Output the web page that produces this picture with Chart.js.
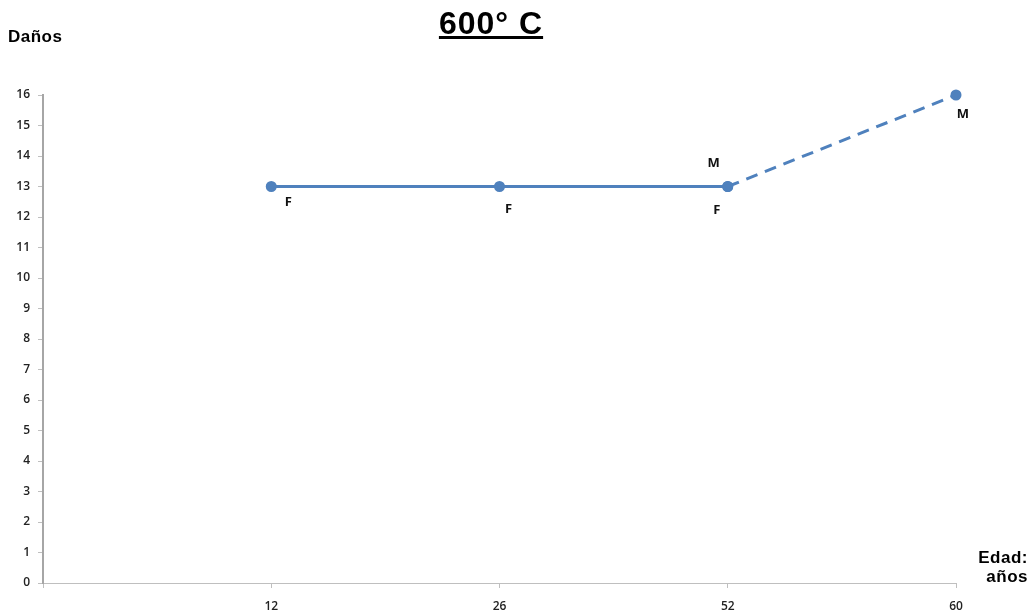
<!DOCTYPE html>
<html lang="es">
<head>
  <meta charset="UTF-8" />
  <title>600° C</title>
  <script src="https://cdn.jsdelivr.net/npm/chart.js"></script>
  <style>
    body { margin: 0; background: #fff; font-family: "Liberation Sans", Arial, sans-serif; }
    #wrap { position: relative; width: 1032px; height: 614px; }
    .txt { position: absolute; color: #000; white-space: nowrap; }
    #titulo { left: 0; width: 982px; top: 5px; text-align: center; font-size: 32px; font-weight: bold; letter-spacing: 1px; text-decoration: underline; }
    #ylab { left: 8px; top: 27px; font-size: 17px; font-weight: bold; letter-spacing: 0.5px; }
    #xlab { left: 968px; top: 548px; font-size: 17px; font-weight: bold; text-align: right; line-height: 19px; width: 60px; letter-spacing: 0.5px; }
  </style>
</head>
<body>
  <div id="wrap">
    <canvas id="grafico" width="1032" height="614"></canvas>
    <div class="txt" id="titulo">600° C</div>
    <div class="txt" id="ylab">Daños</div>
    <div class="txt" id="xlab">Edad:<br>años</div>
  </div>

  <script>
    // categorias (la primera vacia marca el origen del eje)
    const edades = ['', '12', '26', '52', '60'];
    const danosF = [null, 13, 13, 13, null];
    const danosM = [null, null, null, 13, 16];
    const etiquetasF = [null, 'F', 'F', 'F', null];
    const etiquetasM = [null, null, null, 'M', 'M'];

    const azul = '#4f81bd';

    // desplazamientos de las letras respecto al punto
    const despF = [null, [17, 16], [9, 23], [-11, 24], null];
    const despM = [null, null, null, [-14, -23], [7, 19]];

    const letras = {
      id: 'letras',
      afterDatasetsDraw(chart) {
        const ctx = chart.ctx;
        ctx.save();
        ctx.font = 'bold 13px "Open Sans", sans-serif';
        ctx.fillStyle = '#111';
        ctx.textAlign = 'center';
        ctx.textBaseline = 'middle';
        [[0, etiquetasF, despF], [1, etiquetasM, despM]].forEach(([i, labs, desp]) => {
          const meta = chart.getDatasetMeta(i);
          meta.data.forEach((p, j) => {
            if (!labs[j]) return;
            ctx.fillText(labs[j], p.x + desp[j][0], p.y + desp[j][1]);
          });
        });
        ctx.restore();
      }
    };

    const fuenteEje = { family: '"Open Sans", sans-serif', size: 12, weight: '600' };

    const ctx = document.getElementById('grafico').getContext('2d');
    new Chart(ctx, {
      type: 'line',
      data: {
        labels: edades,
        datasets: [{
          label: 'F',
          data: danosF,
          borderColor: azul,
          backgroundColor: azul,
          borderWidth: 3,
          pointRadius: 4,
          pointHoverRadius: 4,
          clip: false,
          fill: false
        }, {
          label: 'M',
          data: danosM,
          borderColor: azul,
          backgroundColor: azul,
          borderWidth: 3,
          borderDash: [12, 8],
          pointRadius: 4,
          pointHoverRadius: 4,
          clip: false,
          fill: false
        }]
      },
      options: {
        responsive: false,
        animation: false,
        layout: { padding: { top: 95, right: 76, left: 0, bottom: 0 } },
        plugins: {
          legend: { display: false },
          tooltip: { enabled: false }
        },
        scales: {
          x: {
            type: 'category',
            offset: false,
            afterFit(s) { s.height = 31; },
            grid: { drawOnChartArea: false, drawTicks: true, tickLength: 5, color: '#bfbfbf' },
            border: { color: '#bfbfbf', width: 1 },
            ticks: { padding: 11, color: '#222', font: fuenteEje, autoSkip: false, maxRotation: 0 }
          },
          y: {
            min: 0,
            max: 16,
            afterFit(s) { s.width = 43; },
            grid: { drawOnChartArea: false, drawTicks: true, tickLength: 5, color: '#bfbfbf' },
            border: { color: '#a6a6a6', width: 2 },
            ticks: { stepSize: 1, padding: 8, color: '#222', font: fuenteEje }
          }
        }
      },
      plugins: [letras]
    });
  </script>
</body>
</html>
